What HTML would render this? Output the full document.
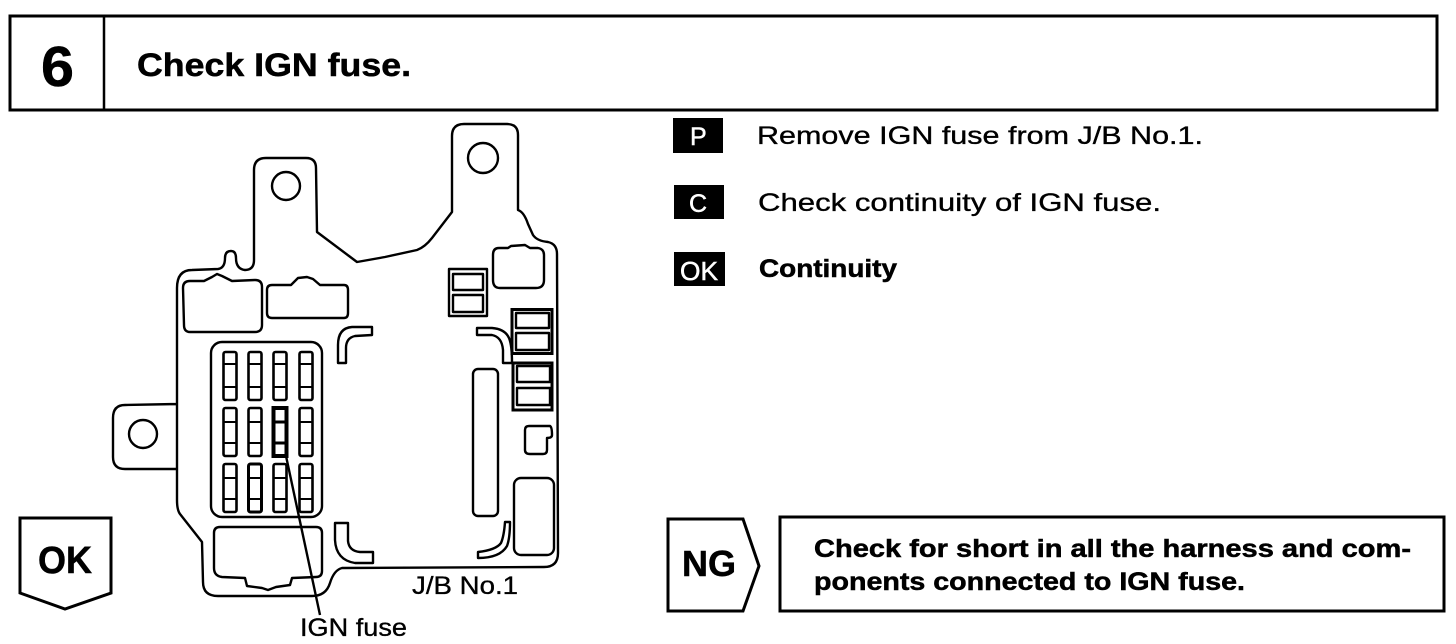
<!DOCTYPE html>
<html>
<head>
<meta charset="utf-8">
<style>
html,body{margin:0;padding:0;background:#fff;width:1456px;height:644px;overflow:hidden}
svg{display:block}
text{font-family:"Liberation Sans",sans-serif;fill:#000}
.b{font-weight:700;stroke:#000;stroke-width:.5}
.r{stroke:#000;stroke-width:.35}
.w{fill:#fff;stroke:#fff;stroke-width:.5}
.o{fill:none;stroke:#000;stroke-width:2.4;stroke-linejoin:round}
.f rect{fill:none;stroke:#000;stroke-width:2.6}
.f path{fill:none;stroke:#000;stroke-width:2}
</style>
</head>
<body>
<svg width="1456" height="644" viewBox="0 0 1456 644" xmlns="http://www.w3.org/2000/svg">
<rect width="1456" height="644" fill="#fff"/>

<!-- Header -->
<rect x="10" y="16" width="1427" height="94" fill="none" stroke="#000" stroke-width="3"/>
<line x1="104" y1="16" x2="104" y2="110" stroke="#000" stroke-width="2.5"/>
<text x="41" y="86" class="b" font-size="57" textLength="33" lengthAdjust="spacingAndGlyphs">6</text>
<text x="137" y="76" class="b" font-size="32" textLength="274" lengthAdjust="spacingAndGlyphs">Check IGN fuse.</text>

<!-- J/B outline -->
<path class="o" d="M177,469 L177,288 Q177,270 192,270 L218,269 Q225,268 225,258 Q225,251 231,251 Q236,251 236,258 Q236,269 245,270 Q254,270 254,260 L254,170 Q254,158 266,158 L306,158 Q316,158 316,168 L317,232 L349,256 L357,262 L385,257 L417,250 Q425,247 432,238 L452,212 L452,136 Q452,124 464,124 L507,124 Q518,124 518,135 L518,210 Q524,212 528,224 L533,235 Q537,241 548,242 Q557,244 557,254 L558,553 Q558,567 544,567 L342,568 Q334,570 330,583 Q326,596 312,596 L218,596 Q203,596 203,582 L202,542 L180,514 Q177,510 177,500 L177,469 L125,469 Q113,469 113,457 L113,418 Q113,405 125,405 L177,404"/>
<circle class="o" cx="286" cy="186" r="14"/>
<circle class="o" cx="483" cy="158" r="15"/>
<circle class="o" cx="143" cy="434" r="14"/>

<!-- Top connectors -->
<path class="o" d="M190,281 L204,281 L212,277 L217,274 L222,276 L232,281 L255,280 Q262,280 262,287 L262,325 Q262,332 255,332 L190,332 Q184,332 184,325 L183,288 Q183,281 190,281 Z"/>
<path class="o" d="M272,285 L291,285 L298,278 L307,277 L313,279 L320,285 L344,285 Q348,285 348,290 L348,313 Q348,318 344,318 L272,318 Q267,318 267,313 L267,290 Q267,285 272,285 Z"/>
<path class="o" d="M499,248 L508,248 L511,246 L525,245 L530,248 L538,248 Q544,249 544,255 L544,280 Q544,288 536,288 L500,288 Q493,288 493,280 L493,255 Q493,248 499,248 Z"/>

<!-- Relay boxes -->
<rect class="o" x="449" y="269" width="38" height="47"/>
<rect class="o" x="453" y="274" width="30" height="16"/>
<rect class="o" x="453" y="295" width="30" height="17"/>
<rect x="512" y="309.500" width="40" height="44" fill="none" stroke="#000" stroke-width="3"/>
<rect class="o" x="516" y="313" width="33" height="15"/>
<rect class="o" x="516" y="333" width="33" height="17"/>
<rect x="513" y="363" width="39" height="47" fill="none" stroke="#000" stroke-width="3"/>
<rect class="o" x="517" y="366" width="33" height="16"/>
<rect class="o" x="517" y="388" width="33" height="17"/>

<!-- Hooks -->
<path class="o" d="M338,363 L338,345 Q338,328 352,327 L372,327 L372,335 L355,336 Q346,338 346,348 L346,363 Z"/>
<path class="o" d="M477,328 L477,335 L492,335 Q502,337 503,350 L503,363 L512,363 Q512,345 509,338 Q505,329 492,328 Z"/>
<path class="o" d="M335,523 L348,523 L348,541 Q349,551 360,552 L373,552 L373,563 L355,563 Q336,560 335,540 Z"/>
<path class="o" d="M478,552 L478,558 Q500,558 507,546 Q510,538 510,522 L505,522 Q504,536 501,543 Q496,550 478,552 Z"/>

<!-- Tall / right parts -->
<rect class="o" x="473" y="369" width="25" height="147" rx="5"/>
<path class="o" d="M529,426 L550,426 Q552,427 552,435 Q552,438 547,438 L547,450 Q547,454 543,454 L530,454 Q525,454 525,450 L525,430 Q525,426 529,426 Z"/>
<rect class="o" x="514" y="478" width="40" height="77" rx="7"/>

<!-- Bottom connector -->
<path class="o" d="M220,527 L316,527 Q322,527 322,533 L322,571 Q322,577 316,577 L292,578 L290,585 L276,587 L268,590 L262,588 L247,586 L245,578 L222,577 Q214,576 214,568 L214,533 Q214,527 220,527 Z"/>

<!-- Fuse block -->
<rect class="o" x="211" y="342" width="111" height="175" rx="11"/>
<g class="f">
<rect x="223.500" y="352" width="13" height="48" rx="2"/><path d="M223,364H237M223,387H237"/>
<rect x="248.500" y="352" width="13" height="48" rx="2"/><path d="M248,364H262M248,387H262"/>
<rect x="273.500" y="352" width="13" height="48" rx="2"/><path d="M273,364H287M273,387H287"/>
<rect x="299.500" y="352" width="13" height="48" rx="2"/><path d="M299,364H313M299,387H313"/>
<rect x="223.500" y="408" width="13" height="48" rx="2"/><path d="M223,422H237M223,443H237"/>
<rect x="248.500" y="408" width="13" height="48" rx="2"/><path d="M248,422H262M248,443H262"/>
<rect x="273.500" y="408" width="13" height="48" style="stroke-width:4"/><path d="M273,422H287M273,443H287" style="stroke-width:3"/>
<rect x="299.500" y="408" width="13" height="48" rx="2"/><path d="M299,422H313M299,443H313"/>
<rect x="223.500" y="464" width="13" height="48" rx="2"/><path d="M223,478H237M223,499H237"/>
<rect x="248.500" y="464" width="13" height="48" rx="2" style="stroke-width:3"/><path d="M248,478H262M248,499H262"/>
<rect x="273.500" y="464" width="13" height="48" rx="2"/><path d="M273,478H287M273,499H287"/>
<rect x="299.500" y="464" width="13" height="48" rx="2"/><path d="M299,478H313M299,499H313"/>
</g>
<line x1="286" y1="456" x2="320" y2="615" stroke="#000" stroke-width="2.4"/>

<text x="412" y="594" class="r" font-size="25" textLength="106" lengthAdjust="spacingAndGlyphs">J/B No.1</text>
<text x="300" y="636" class="r" font-size="25" textLength="107" lengthAdjust="spacingAndGlyphs">IGN fuse</text>

<!-- Badges -->
<rect x="673" y="118" width="50" height="35" fill="#000"/>
<text x="690" y="145" class="w" font-size="25">P</text>
<rect x="674" y="185" width="50" height="34" fill="#000"/>
<text x="689" y="212" class="w" font-size="25">C</text>
<rect x="674" y="252" width="51" height="34" fill="#000"/>
<text x="680" y="280" class="w" font-size="26" textLength="38" lengthAdjust="spacingAndGlyphs">OK</text>

<text x="757" y="144" class="r" font-size="25" textLength="446" lengthAdjust="spacingAndGlyphs">Remove IGN fuse from J/B No.1.</text>
<text x="758" y="211" class="r" font-size="25" textLength="403" lengthAdjust="spacingAndGlyphs">Check continuity of IGN fuse.</text>
<text x="759" y="277" class="b" font-size="25" textLength="138" lengthAdjust="spacingAndGlyphs">Continuity</text>

<!-- OK pentagon -->
<path d="M20,518 L111,518 L111,593 L65,609 L20,593 Z" fill="none" stroke="#000" stroke-width="3" stroke-linejoin="miter"/>
<text x="38" y="573" class="b" font-size="38" textLength="54" lengthAdjust="spacingAndGlyphs">OK</text>

<!-- NG pentagon -->
<path d="M668,519 L743,519 L759,566 L743,611 L668,611 Z" fill="none" stroke="#000" stroke-width="3" stroke-linejoin="miter"/>
<text x="682" y="576" class="b" font-size="36" textLength="54" lengthAdjust="spacingAndGlyphs">NG</text>

<!-- NG box -->
<rect x="780" y="517" width="664" height="94" fill="none" stroke="#000" stroke-width="3"/>
<text x="814" y="557" class="b" font-size="25" textLength="597" lengthAdjust="spacingAndGlyphs">Check for short in all the harness and com-</text>
<text x="814" y="590" class="b" font-size="25" textLength="431" lengthAdjust="spacingAndGlyphs">ponents connected to IGN fuse.</text>
</svg>
</body>
</html>
